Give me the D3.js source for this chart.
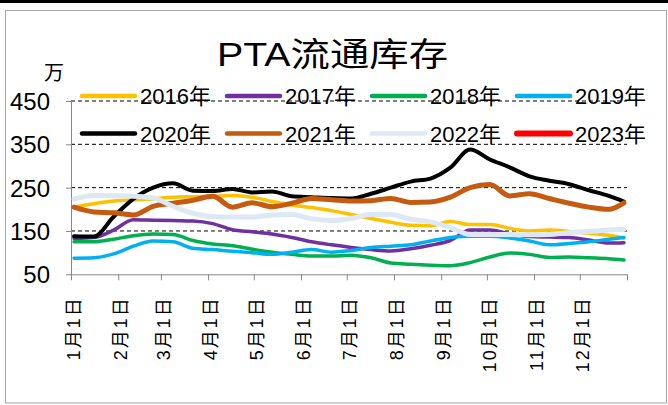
<!DOCTYPE html>
<html lang="zh">
<head>
<meta charset="UTF-8">
<title>PTA流通库存</title>
<script src="https://d3js.org/d3.v7.min.js"></script>
<style>
  body { margin: 0; background: #fff; }
  svg { display: block; }
  text { font-family: "Liberation Sans", Arial, "Noto Sans CJK SC", sans-serif; fill: #000; }
  .cjk { font-family: "Liberation Sans", "Noto Sans CJK SC", sans-serif; }
  .grid line { stroke: #000; stroke-dasharray: 4,3; stroke-width: 1; }
  .axis path, .axis line { stroke: #868686; stroke-width: 1; }
  .series { fill: none; stroke-linejoin: round; stroke-linecap: round; }
</style>
</head>
<body>
<svg width="668" height="405"></svg>
<script>
// 日期（一年中的第几天）
const days = [2, 15, 28, 41, 54, 67, 80, 93, 106, 119, 132, 145, 158, 171, 184,
  197, 210, 223, 236, 249, 262, 275, 288, 301, 314, 327, 340, 353, 363];

// 各年度数据（万吨）
const y2016 = [205, 213, 219, 222, 224, 228, 229, 230, 232, 228, 218, 210, 204, 197, 188,
  179, 170, 163, 162, 172, 165, 165, 156, 150, 152, 149, 145, 140, 134];
const y2017 = [133, 135, 152, 176, 175, 174, 173, 167, 153, 148, 143, 135, 125, 118, 112,
  107, 104, 109, 117, 128, 152, 152, 143, 137, 136, 135, 129, 122, 123];
const y2018 = [125, 125, 131, 139, 143, 142, 128, 120, 116, 108, 101, 96, 92, 92, 94,
  88, 76, 73, 71, 70, 77, 90, 99, 96, 89, 90, 88, 86, 83];
const y2019 = [87, 88, 97, 115, 127, 125, 110, 107, 103, 100, 96, 101, 107, 101, 105,
  112, 115, 118, 127, 135, 138, 138, 134, 127, 118, 121, 125, 131, 135];
const y2020 = [138, 137, 183, 224, 250, 260, 243, 242, 247, 239, 241, 230, 228, 226, 225,
  236, 250, 264, 271, 296, 338, 315, 297, 276, 266, 258, 244, 231, 218];
const y2021 = [205, 194, 192, 187, 207, 214, 221, 230, 205, 215, 206, 214, 225, 222, 219,
  220, 225, 216, 217, 228, 250, 257, 231, 236, 225, 214, 205, 200, 215];
const y2022 = [224, 232, 232, 230, 226, 207, 191, 183, 182, 182, 187, 188, 178, 174, 179,
  188, 188, 177, 171, 158, 142, 142, 142, 141, 142, 146, 149, 152, 154];
const y2023 = [];

const seriesNames = ["2016年", "2017年", "2018年", "2019年", "2020年", "2021年", "2022年", "2023年"];
const seriesValues = [y2016, y2017, y2018, y2019, y2020, y2021, y2022, y2023];
const colors = ["#FFC000", "#7030A0", "#00B050", "#00B0F0", "#000000", "#C55A11", "#DDE8F5", "#FF0000"];
const widths = [3.5, 3.5, 3.5, 3.5, 4, 5, 5, 6];

// 坐标轴刻度
const yTicks = [50, 150, 250, 350, 450];
const monthDays = [0, 31, 59, 90, 120, 151, 181, 212, 243, 273, 304, 334, 365];
const monthLabels = ["1月1日", "2月1日", "3月1日", "4月1日", "5月1日", "6月1日",
  "7月1日", "8月1日", "9月1日", "10月1日", "11月1日", "12月1日", ""];

const svg = d3.select("svg");

// 外框
svg.append("rect").attr("x", 0).attr("y", 0).attr("width", 668).attr("height", 3).attr("fill", "#000");
svg.append("rect").attr("x", 5.5).attr("y", 10.5).attr("width", 661).attr("height", 392.5)
  .attr("fill", "#fff").attr("stroke", "#a6a6a6");

const x = d3.scaleLinear().domain([0, 365]).range([71, 627]);
const y = d3.scaleLinear().domain([50, 450]).range([274.3, 101]);

// 网格线
svg.append("g").attr("class", "grid")
  .selectAll("line").data(yTicks.slice(1)).enter().append("line")
  .attr("x1", x(0)).attr("x2", x(365))
  .attr("y1", d => y(d)).attr("y2", d => y(d));

// y 轴
const yAxis = svg.append("g").attr("class", "axis")
  .attr("transform", `translate(${x(0)},0)`)
  .call(d3.axisLeft(y).tickValues(yTicks).tickSize(5).tickSizeOuter(0).tickPadding(16));
yAxis.selectAll("text").attr("font-size", 24).attr("dy", "0.35em");

// x 轴
const xAxis = svg.append("g").attr("class", "axis")
  .attr("transform", `translate(0,${y(50)})`)
  .call(d3.axisBottom(x).tickValues(monthDays).tickSize(6).tickSizeOuter(0)
    .tickFormat((d, i) => monthLabels[i]));
xAxis.selectAll("text")
  .attr("class", "cjk")
  .attr("font-size", 18)
  .attr("letter-spacing", 2)
  .attr("text-anchor", "end")
  .attr("transform", "rotate(-90)")
  .attr("x", -22)
  .attr("y", 2)
  .attr("dy", "0.35em");

// 折线
const line = d3.line()
  .x((d, i) => x(days[i]))
  .y(d => y(d))
  .curve(d3.curveMonotoneX);

svg.append("g").selectAll("path")
  .data(seriesValues.map((v, i) => ({ v, i })).filter(s => s.v.length))
  .enter().append("path")
  .attr("class", "series")
  .attr("stroke", s => colors[s.i])
  .attr("stroke-width", s => widths[s.i])
  .attr("d", s => line(s.v));

// 图例
const legend = svg.append("g");
seriesNames.forEach((name, i) => {
  const lx = 82 + (i % 4) * 145;
  const ly = i < 4 ? 96 : 133.5;
  legend.append("line")
    .attr("x1", lx).attr("x2", lx + 53)
    .attr("y1", ly).attr("y2", ly)
    .attr("stroke", colors[i])
    .attr("stroke-width", i === 7 ? 6 : 4.5)
    .attr("stroke-linecap", "round");
  legend.append("text")
    .attr("class", "cjk")
    .attr("x", lx + 58).attr("y", ly + 8)
    .attr("font-size", 22)
    .text(name);
});

// 标题与单位
svg.append("text").attr("class", "cjk")
  .attr("x", 217).attr("y", 66)
  .attr("font-size", 33)
  .attr("textLength", 231).attr("lengthAdjust", "spacingAndGlyphs")
  .text("PTA流通库存");

svg.append("text").attr("class", "cjk")
  .attr("x", 54).attr("y", 80)
  .attr("text-anchor", "middle")
  .attr("font-size", 20)
  .text("万");
</script>
</body>
</html>
